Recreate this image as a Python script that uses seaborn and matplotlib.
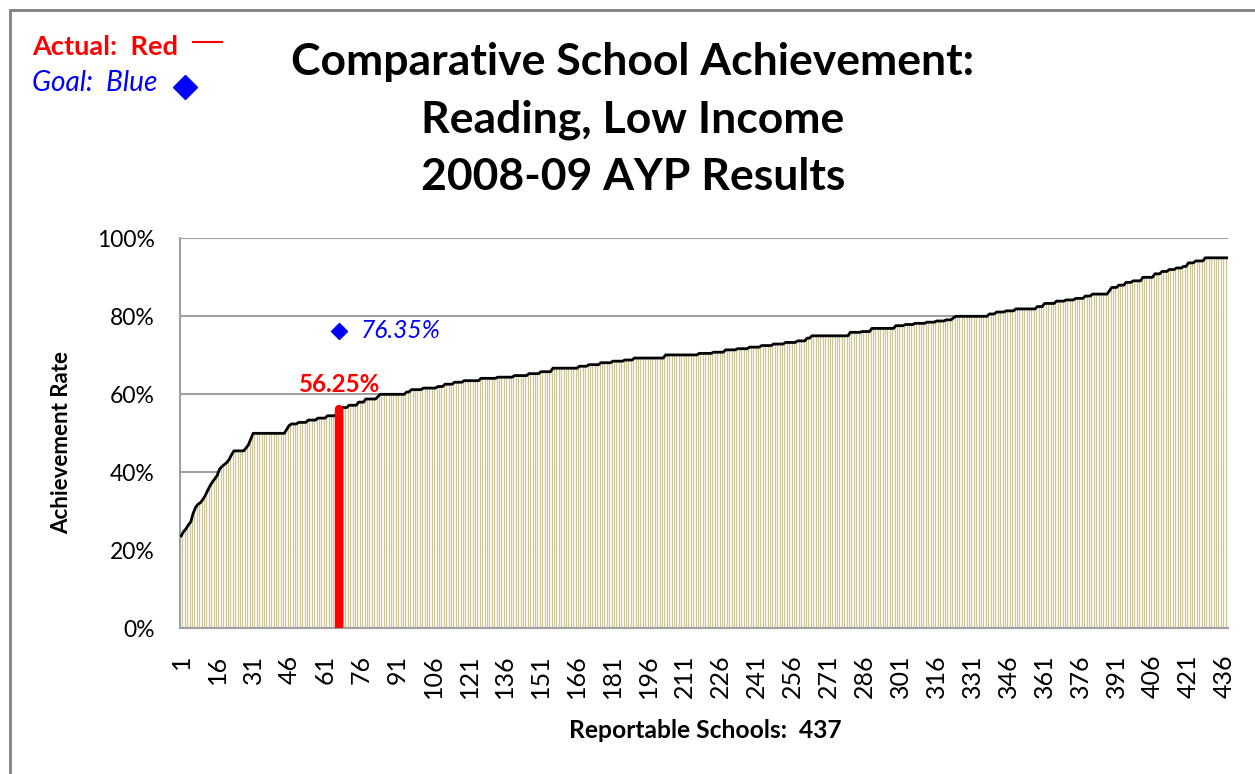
import numpy as np
import pandas as pd
import seaborn as sns
import matplotlib.pyplot as plt
from matplotlib.patches import Rectangle

# achievement rate (%) of the 437 schools, sorted; stored as runs of equal value
run_values = [23.7, 24.8, 25.5, 26.5, 27.3, 29.5, 31.0, 31.8, 32.2, 33.0,
              34.0, 35.3, 36.5, 37.5, 38.3, 39.2, 40.8, 41.5, 42.0, 42.5,
              43.3, 44.5, 45.5, 46.2, 47.0, 48.5, 50.0, 51.0, 52.0, 52.4,
              52.8, 53.4, 53.9, 54.5, 55.0, 56.25, 56.6, 57.2, 58.0, 58.8,
              59.4, 60.0, 60.6, 61.2, 61.6, 62.0, 62.6, 63.1, 63.5, 64.1,
              64.4, 64.8, 65.3, 65.8, 66.7, 67.2, 67.6, 68.1, 68.5, 68.8,
              69.3, 70.1, 70.5, 70.8, 71.4, 71.7, 72.1, 72.5, 72.9, 73.3,
              73.7, 74.4, 75.0, 75.9, 76.1, 76.9, 77.6, 77.9, 78.2, 78.5,
              78.8, 79.1, 79.6, 80.0, 80.6, 81.1, 81.4, 81.9, 82.5, 83.3,
              83.9, 84.2, 84.6, 85.2, 85.7, 86.5, 87.4, 88.0, 88.7, 89.1,
              90.0, 90.9, 91.5, 92.0, 92.4, 92.8, 93.7, 94.2, 95.0]
run_counts = [1, 1, 1, 1, 1, 1, 1, 1, 1, 1,
              1, 1, 1, 1, 1, 1, 1, 1, 1, 1,
              1, 1, 5, 1, 1, 1, 14, 1, 1, 3,
              4, 4, 4, 4, 1, 1, 3, 4, 3, 5,
              1, 11, 2, 5, 6, 3, 4, 4, 7, 7,
              7, 6, 5, 5, 11, 4, 5, 5, 5, 4,
              13, 14, 6, 5, 5, 5, 5, 5, 5, 5,
              4, 2, 16, 5, 4, 10, 4, 4, 5, 4,
              4, 3, 1, 14, 3, 4, 4, 9, 3, 5,
              4, 4, 4, 3, 7, 1, 3, 3, 3, 4,
              5, 3, 3, 3, 3, 2, 3, 4, 10]

actual_school = 67      # highlighted school (red)
actual_rate = 56.25
goal_rate = 76.35
n_schools = 437
tick_labels = list(range(1, 437, 15))
title_lines = ['Comparative School Achievement:', 'Reading, Low Income', '2008-09 AYP Results']

rates = np.repeat(run_values, run_counts)
assert len(rates) == n_schools
df = pd.DataFrame({'school': np.arange(n_schools), 'rate': rates / 100})

font = 'Lato'
W, H = 1255, 774
fig = plt.figure(figsize=(W / 100, H / 100), dpi=100)
ax = fig.add_axes([0.1434, 0.1882, 0.8351, 0.5039])

sns.barplot(data=df, x='school', y='rate', color='#f8f6e8', saturation=1,
            width=1.0, edgecolor='#c2ba8a', linewidth=0.5, ax=ax)
ax.plot(df['school'], df['rate'], color='black', lw=2, zorder=4)

# highlighted school and goal
i = actual_school - 1
ax.vlines(i, 0, actual_rate / 100, color='red', lw=6, zorder=5, capstyle='round')
ax.plot(i, goal_rate / 100, marker='D', color='blue', ms=8, zorder=6)
ax.text(i, actual_rate / 100 + 0.033, f'{actual_rate:.2f}%', color='red',
        fontsize=17.4, fontweight='bold', ha='center', va='bottom', family=font)
ax.text(i + 9, goal_rate / 100, f'{goal_rate:.2f}%', color='blue', fontsize=17.7,
        style='italic', ha='left', va='center', family=font)

ax.set_xlim(-0.5, n_schools - 0.5)
ax.set_ylim(0, 1)
ax.set_yticks(np.arange(0, 1.01, 0.2))
ax.set_yticklabels([f'{v}%' for v in range(0, 101, 20)], fontsize=16.5, family=font)
ax.set_xticks([t - 1 for t in tick_labels])
ax.set_xticklabels(tick_labels, rotation=90, fontsize=18, family=font)
ax.tick_params(axis='y', length=0, pad=18)
ax.tick_params(axis='x', length=0, pad=19)
ax.yaxis.grid(True, color='#a0a0a0', lw=1.5)
ax.set_axisbelow(True)
for s in ['top', 'right']:
    ax.spines[s].set_visible(False)
for s in ['left', 'bottom']:
    ax.spines[s].set_color('#a0a0a0')
    ax.spines[s].set_linewidth(1.5)

ax.set_xlabel('')
ax.set_ylabel('')
fig.text(705 / W, 1 - 731 / H, f'Reportable Schools:  {n_schools}', fontsize=17.7,
         fontweight='bold', family=font, ha='center', va='center')
fig.text(62 / W, 1 - 443 / H, 'Achievement Rate', fontsize=16, fontweight='bold',
         family=font, ha='center', va='center', rotation=90)

for line, yc in zip(title_lines, [62, 120, 177]):
    fig.text(633 / W, 1 - yc / H, line, ha='center', va='center', fontsize=32,
             fontweight='bold', family=font)

fig.text(32 / W, 1 - 47 / H, 'Actual:  Red', color='red', fontsize=19.6,
         fontweight='bold', family=font, va='center')
fig.add_artist(plt.Line2D([193 / W, 222 / W], [1 - 42 / H, 1 - 42 / H],
                          color='red', lw=1.5))
fig.text(32 / W, 1 - 83 / H, 'Goal:  Blue', color='blue', fontsize=20.2,
         style='italic', family=font, va='center')
fig.add_artist(plt.Line2D([185 / W], [1 - 87 / H], marker='D', color='blue', ms=12))

fig.add_artist(Rectangle((9.5 / W, -0.1), 1.2, 1 - 9.5 / H + 0.1,
                         transform=fig.transFigure, fill=False, ec='#808080', lw=2))

fig.savefig('out.png', dpi=100)
